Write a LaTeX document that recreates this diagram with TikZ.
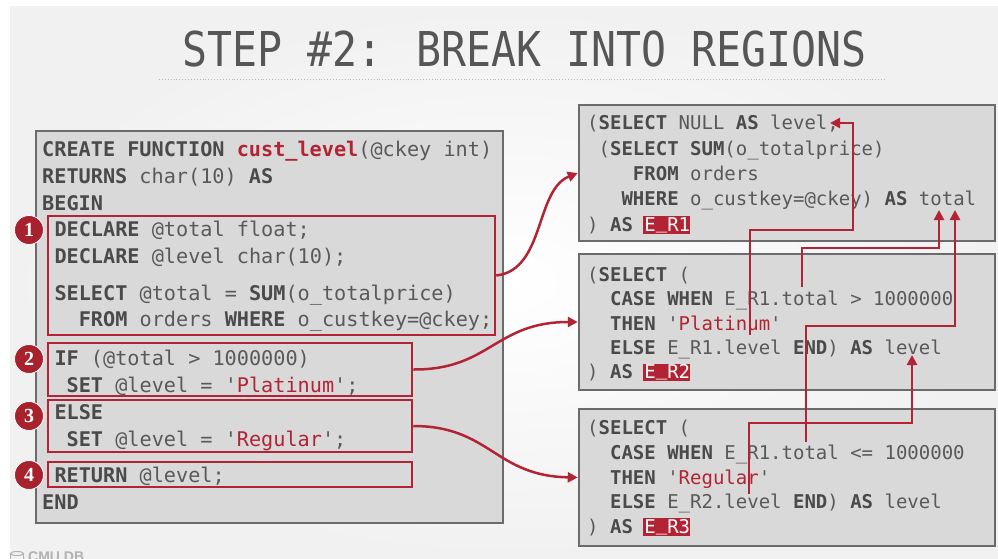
\documentclass[tikz,border=0pt]{standalone}
\usepackage{fontspec}
\usepackage{graphicx}
\setmonofont{DejaVu Sans Mono}
\newfontfamily\titlefont{DejaVu Sans Mono}
\newfontfamily\badgefont{Liberation Serif}
\newfontfamily\logofont{Liberation Sans}
\usetikzlibrary{arrows.meta}

\definecolor{sqlred}{HTML}{B22433}
\definecolor{badgered}{HTML}{A8222E}
\definecolor{boxfill}{HTML}{D9D9D9}
\definecolor{boxline}{HTML}{6B6B6B}
\definecolor{codegray}{HTML}{595959}
\definecolor{kwgray}{HTML}{4A4A4A}
\definecolor{titlegray}{HTML}{565656}

% SQL keyword, red literal, highlighted region name
\newcommand\kw[1]{{\bfseries\color{kwgray}#1}}
\newcommand\rd[1]{{\color{sqlred}#1}}
\newcommand\upbar{\raisebox{3pt}{\_}}
\newcommand\regname[1]{\setbox0=\hbox{#1}\rlap{\kern-1.5pt\color{sqlred}\rule[-2.5pt]{\dimexpr\wd0+1pt\relax}{17.5pt}}\textcolor{white}{#1}}

\begin{document}
\begin{tikzpicture}[x=1pt,y=-1pt,
  codebox/.style={draw=boxline, fill=boxfill, line width=2.5pt, inner sep=0pt},
  region/.style={draw=sqlred, line width=2.5pt, inner sep=0pt},
  codeL/.style={anchor=base west, inner sep=0pt, text=codegray,
    font=\ttfamily\frenchspacing\fontsize{20.2}{24}\selectfont},
  codeR/.style={anchor=base west, inner sep=0pt, text=codegray,
    font=\ttfamily\frenchspacing\fontsize{19}{23}\selectfont},
  badge/.style={circle, fill=badgered, draw=white, line width=0.8pt,
    minimum size=29pt, inner sep=0pt, text=white,
    font=\badgefont\bfseries\fontsize{20}{20}\selectfont},
  link/.style={draw=sqlred, line width=2.5pt, -{Triangle[length=10pt,width=10pt]}},
  dep/.style={draw=sqlred, line width=2.6pt, -{Triangle[length=10pt,width=10pt]}}
]
\useasboundingbox (0,0) rectangle (998,559);

% slide background
\fill[white] (0,0) rectangle (998,559);
\shade[inner color=white, outer color=gray!11] (10,7) rectangle (998,559);

% title and rule
\node[anchor=base, inner sep=0pt, text=titlegray,
  font=\titlefont\fontsize{48}{48}\selectfont] (title) at (524.5,66.5)
  {\scalebox{0.865}[1]{STEP \#2: BREAK INTO REGIONS}};
\draw[gray!55, line width=0.9pt, dotted] (159,79) -- (885,79);

% function source
\node[codebox, minimum width=467pt, minimum height=392pt] (fn) at (269.5,327) {};
\node[codeL] (f1) at (42,157) {\kw{CREATE FUNCTION} {\bfseries\color{sqlred}cust\_level}(@ckey int)};
\node[codeL] (f2) at (42,183) {\kw{RETURNS} char(10) \kw{AS}};
\node[codeL] (f3) at (42,210) {\kw{BEGIN}};
\node[codeL] (f4) at (54.3,236.5) {\kw{DECLARE} @total float;};
\node[codeL] (f5) at (54.3,263) {\kw{DECLARE} @level char(10);};
\node[codeL] (f6) at (54.3,300) {\kw{SELECT} @total = \kw{SUM}(o\_totalprice)};
\node[codeL] (f7) at (54.3,326.5) {\phantom{XX}\kw{FROM} orders \kw{WHERE} o\_custkey=@ckey;};
\node[codeL] (f8) at (54.3,365) {\kw{IF} (@total > 1000000)};
\node[codeL] (f9) at (54.3,392) {\phantom{X}\kw{SET} @level = '\rd{Platinum}';};
\node[codeL] (f10) at (54.3,419) {\kw{ELSE}};
\node[codeL] (f11) at (54.3,446) {\phantom{X}\kw{SET} @level = '\rd{Regular}';};
\node[codeL] (f12) at (54.3,482.5) {\kw{RETURN} @level;};
\node[codeL] (f13) at (42,509.5) {\kw{END}};

% regions
\node[region, minimum width=447pt, minimum height=119pt] (reg1) at (271.5,275.5) {};
\node[region, minimum width=364pt, minimum height=53pt] (reg2) at (230,369.5) {};
\node[region, minimum width=364pt, minimum height=52pt] (reg3) at (230,426) {};
\node[region, minimum width=364pt, minimum height=25pt] (reg4) at (230,474.5) {};

\node[badge] (b1) at (29,230) {1};
\node[badge] (b2) at (29,359) {2};
\node[badge] (b3) at (29,416) {3};
\node[badge] (b4) at (29,475) {4};

% rewritten queries
\node[codebox, minimum width=416pt, minimum height=136pt] (er1) at (787,173) {};
\node[codebox, minimum width=416pt, minimum height=136pt] (er2) at (787,322) {};
\node[codebox, minimum width=416pt, minimum height=137pt] (er3) at (787,477.5) {};

\node[codeR] (q11) at (587,130) {(\kw{SELECT} NULL \kw{AS} level,};
\node[codeR] (q12) at (587,155) {\phantom{X}(\kw{SELECT} \kw{SUM}(o\_totalprice)};
\node[codeR] (q13) at (587,180) {\phantom{XXXX}\kw{FROM} orders};
\node[codeR] (q14) at (587,205) {\phantom{XXX}\kw{WHERE} o\_custkey=@ckey) \kw{AS} total};
\node[codeR] (q15) at (587,231) {) \kw{AS} \regname{E\upbar R1}};

\node[codeR] (q21) at (587,281) {(\kw{SELECT} (};
\node[codeR] (q22) at (587,305.5) {\phantom{XX}\kw{CASE WHEN} E\_R1.total > 1000000};
\node[codeR] (q23) at (587,330) {\phantom{XX}\kw{THEN} '\rd{Platinum}'};
\node[codeR] (q24) at (587,354) {\phantom{XX}\kw{ELSE} E\_R1.level \kw{END}) \kw{AS} level};
\node[codeR] (q25) at (587,378.5) {) \kw{AS} \regname{E\upbar R2}};

\node[codeR] (q31) at (587,434.5) {(\kw{SELECT} (};
\node[codeR] (q32) at (587,459) {\phantom{XX}\kw{CASE WHEN} E\_R1.total <= 1000000};
\node[codeR] (q33) at (587,484) {\phantom{XX}\kw{THEN} '\rd{Regular}'};
\node[codeR] (q34) at (587,508.5) {\phantom{XX}\kw{ELSE} E\_R2.level \kw{END}) \kw{AS} level};
\node[codeR] (q35) at (587,533) {) \kw{AS} \regname{E\upbar R3}};

% region -> query links
\draw[link] (reg1.east) .. controls (545,270) and (535,190) .. (er1.west);
\draw[link] (reg2.east) .. controls (490,370) and (495,322) .. (er2.west);
\draw[link] (reg3.east) .. controls (490,426) and (495,476) .. (er3.west);

% column dependencies
\coordinate (s1) at (750,335);   \coordinate (t1) at (830,123);
\coordinate (s2) at (802,287);   \coordinate (t2) at (939,210);
\coordinate (s3) at (806,442);   \coordinate (t3) at (955,210);
\coordinate (s4) at (749,494);   \coordinate (t4) at (912,355);
\draw[dep] (s1) |- (853,230) |- (t1);
\draw[dep] (s2) |- (939,248) -- (t2);
\draw[dep] (s3) |- (955,326) -- (t3);
\draw[dep] (s4) |- (912,423) -- (t4);

% footer logo
\draw[gray!60, line width=1pt] (17,553.5) ellipse (6.5 and 2);
\draw[gray!60, line width=1pt] (10.5,553.5) -- (10.5,562) (23.5,553.5) -- (23.5,562);
\node[anchor=north west, inner sep=0pt, text=gray!60,
  font=\logofont\bfseries\fontsize{14}{14}\selectfont] (logo) at (28,552) {CMU DB};
\end{tikzpicture}
\end{document}
